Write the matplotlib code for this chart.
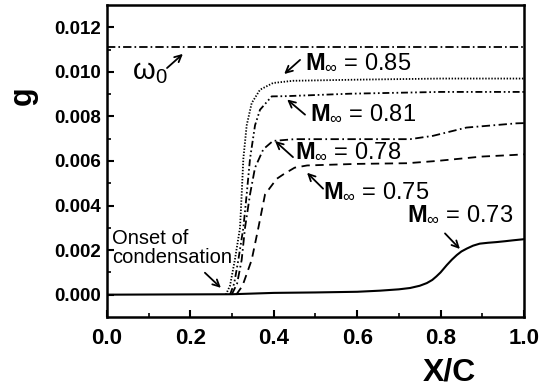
import matplotlib
matplotlib.use("Agg")
import matplotlib.pyplot as plt

plt.rcParams['font.family'] = ['Liberation Sans', 'DejaVu Sans']
plt.rcParams['mathtext.fontset'] = 'custom'
plt.rcParams['mathtext.rm'] = 'Liberation Sans'
plt.rcParams['mathtext.it'] = 'Liberation Sans:italic'
plt.rcParams['mathtext.bf'] = 'Liberation Sans:bold'
plt.rcParams['lines.scale_dashes'] = False

# condensate mass fraction along the chord for each free-stream Mach number
omega0 = 0.0111

x_073 = [0.0, 0.30, 0.40, 0.50, 0.60, 0.655, 0.70, 0.727, 0.75, 0.767, 0.78, 0.79, 0.80, 0.815,
         0.827, 0.839, 0.85, 0.863, 0.878, 0.894, 0.914, 0.934, 0.955, 0.974, 1.0]
g_073 = [0.0, 0.00002, 0.00008, 0.0001, 0.00013, 0.00018, 0.00024, 0.0003, 0.0004, 0.00052,
         0.00066, 0.00082, 0.001, 0.00133, 0.00157, 0.00178, 0.00194, 0.00207, 0.0022, 0.00229,
         0.00233, 0.00236, 0.0024, 0.00244, 0.00249]

x_075 = [0.31, 0.325, 0.347, 0.363, 0.379, 0.395, 0.407, 0.423, 0.45, 0.48, 0.60, 0.72, 0.79,
         0.90, 0.975, 1.0]
g_075 = [0.0, 0.0004, 0.00156, 0.003, 0.0045, 0.0049, 0.0052, 0.0054, 0.0057, 0.0058, 0.00587,
         0.0059, 0.006, 0.0062, 0.00627, 0.0063]

x_078 = [0.299, 0.312, 0.323, 0.331, 0.343, 0.355, 0.375, 0.398, 0.45, 0.60, 0.727, 0.782,
         0.862, 0.982, 1.0]
g_078 = [0.0, 0.0005, 0.00156, 0.003, 0.0045, 0.0057, 0.00653, 0.0069, 0.00698, 0.00698,
         0.00698, 0.00713, 0.0075, 0.00769, 0.0077]

x_081 = [0.295, 0.305, 0.315, 0.327, 0.335, 0.343, 0.355, 0.367, 0.395, 0.43, 0.583, 0.80, 1.0]
g_081 = [0.0, 0.0005, 0.00156, 0.003, 0.0045, 0.0061, 0.0076, 0.0083, 0.0089, 0.00891, 0.00902,
         0.0091, 0.0091]

x_085 = [0.285, 0.295, 0.307, 0.319, 0.323, 0.327, 0.335, 0.347, 0.367, 0.398, 0.446, 0.60, 0.80, 1.0]
g_085 = [0.0, 0.0004, 0.0016, 0.003, 0.0045, 0.0061, 0.0076, 0.0086, 0.0092, 0.0095, 0.0096,
         0.00965, 0.0097, 0.0097]

fig = plt.figure(figsize=(5.47, 3.87), dpi=100)
ax = fig.add_axes([0.1956, 0.181, 0.7623, 0.806])

lw = 1.3
ax.axhline(omega0, color='black', lw=lw, dashes=(6, 2.2, 1.2, 2.2))
ax.plot(x_085, g_085, color='black', lw=lw, dashes=(1.0, 1.2))
ax.plot(x_081, g_081, color='black', lw=lw, dashes=(5, 2, 1.2, 2, 1.2, 2))
ax.plot(x_078, g_078, color='black', lw=lw, dashes=(6, 2.5, 1.2, 2.5))
ax.plot(x_075, g_075, color='black', lw=lw, dashes=(6, 4))
ax.plot(x_073, g_073, color='black', lw=1.5)

ax.set_xlim(0, 1.0)
ax.set_ylim(-0.001, 0.013)
ax.set_xticks([0.0, 0.2, 0.4, 0.6, 0.8, 1.0])
ax.set_yticks([0.0, 0.002, 0.004, 0.006, 0.008, 0.010, 0.012])
ax.set_xticks([0.1, 0.3, 0.5, 0.7, 0.9], minor=True)
ax.set_yticks([0.001, 0.003, 0.005, 0.007, 0.009, 0.011], minor=True)
ax.set_xticklabels(['0.0', '0.2', '0.4', '0.6', '0.8', '1.0'], fontsize=16, fontweight='bold')
ax.set_yticklabels(['0.000', '0.002', '0.004', '0.006', '0.008', '0.010', '0.012'],
                   fontsize=13.5, fontweight='bold')
ax.tick_params(which='major', direction='in', length=5, width=1.5, pad=4)
ax.tick_params(which='minor', direction='in', length=3, width=1.2)
ax.tick_params(axis='x', which='major', pad=8)
for sp in ax.spines.values():
    sp.set_linewidth(1.8)

ax.set_xlabel('X/C', fontsize=23, fontweight='bold')
ax.xaxis.set_label_coords(0.82, -0.13)
ax.set_ylabel('g', fontsize=22, fontweight='bold')
ax.yaxis.set_label_coords(-0.165, 0.71)

arrow = dict(arrowstyle='->', color='black', lw=1.3, mutation_scale=12)
lab = 17

ax.annotate('', xy=(0.187, 0.01089), xytext=(0.139, 0.01009), arrowprops=arrow)
ax.text(0.060, 0.0100, 'ω$_\\mathrm{0}$', fontsize=21, va='center', ha='left')

ax.annotate('', xy=(0.420, 0.00982), xytext=(0.468, 0.01062), arrowprops=arrow)
ax.text(0.475, 0.0104, r'$\mathbf{M}_{\infty}$ = 0.85', fontsize=lab, va='center', ha='left')

ax.annotate('', xy=(0.427, 0.00884), xytext=(0.480, 0.0080), arrowprops=arrow)
ax.text(0.487, 0.00813, r'$\mathbf{M}_{\infty}$ = 0.81', fontsize=lab, va='center', ha='left')

ax.annotate('', xy=(0.398, 0.00698), xytext=(0.451, 0.00609), arrowprops=arrow)
ax.text(0.451, 0.0064, r'$\mathbf{M}_{\infty}$ = 0.78', fontsize=lab, va='center', ha='left')

ax.annotate('', xy=(0.475, 0.00556), xytext=(0.523, 0.00467), arrowprops=arrow)
ax.text(0.518, 0.00462, r'$\mathbf{M}_{\infty}$ = 0.75', fontsize=lab, va='center', ha='left')

ax.annotate('', xy=(0.851, 0.00196), xytext=(0.806, 0.00284), arrowprops=arrow)
ax.text(0.719, 0.00356, r'$\mathbf{M}_{\infty}$ = 0.73', fontsize=lab, va='center', ha='left')

ax.annotate('', xy=(0.278, 0.00022), xytext=(0.230, 0.00107), arrowprops=arrow)
ax.text(0.012, 0.00209, 'Onset of\ncondensation', fontsize=14.5, va='center', ha='left',
        linespacing=1.0)

fig.savefig('out.png', dpi=100)
